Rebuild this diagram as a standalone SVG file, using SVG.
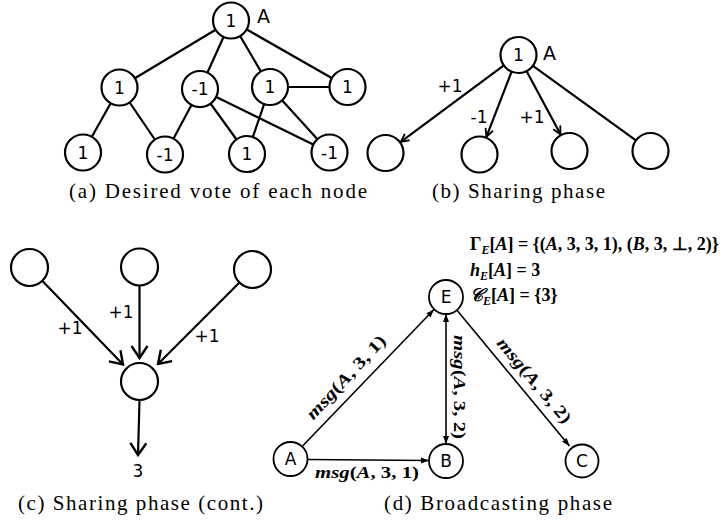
<svg xmlns="http://www.w3.org/2000/svg" width="725" height="521" viewBox="0 0 725 521">
<style>
.bg{fill:#fff}
.nd{fill:#fff;stroke:#000;stroke-width:2.2}
.ndd{fill:#fff;stroke:#000;stroke-width:1.8}
.e{stroke:#000;stroke-width:2.2;fill:none;stroke-linecap:round}
.ed{stroke:#000;stroke-width:1.6;fill:none}
.t{font-family:"DejaVu Sans",sans-serif;font-size:17px;fill:#000;text-anchor:middle}
.tl{font-family:"DejaVu Sans",sans-serif;font-size:19px;fill:#000}
.cap{font-family:"Liberation Serif",serif;font-size:21px;fill:#000;text-anchor:middle}
.math{font-family:"Liberation Serif",serif;font-size:18px;font-style:italic;font-weight:bold;fill:#000}
.ml{font-family:"Liberation Serif",serif;font-size:17px;font-style:italic;font-weight:bold;fill:#000;text-anchor:middle}
.up{font-style:normal}
.sub{font-size:12px}
</style>
<defs>
<marker id="arB" markerUnits="userSpaceOnUse" viewBox="-10 -6 12 12" markerWidth="12" markerHeight="12" refX="0" refY="0" orient="auto">
<path d="M-8,-4 L0,0 L-8,4" fill="none" stroke="#000" stroke-width="1.8"/>
</marker>
<marker id="arC" markerUnits="userSpaceOnUse" viewBox="-14 -10 16 20" markerWidth="16" markerHeight="20" refX="0" refY="0" orient="auto">
<path d="M-12,-8 L0,0 L-12,8" fill="none" stroke="#000" stroke-width="2.4" stroke-linejoin="miter"/>
</marker>
<marker id="arD" markerUnits="userSpaceOnUse" viewBox="-10 -5 11 10" markerWidth="11" markerHeight="10" refX="0" refY="0" orient="auto-start-reverse">
<path d="M0,0 L-8,-3 L-8,3 z" fill="#000"/>
</marker>
</defs>
<rect class="bg" x="0" y="0" width="725" height="521"/>

<g id="connectors">
<!-- panel a -->
<line class="e" x1="231" y1="20.5" x2="119.5" y2="87.5"/>
<line class="e" x1="231" y1="20.5" x2="200" y2="89"/>
<line class="e" x1="231" y1="20.5" x2="270" y2="87"/>
<line class="e" x1="231" y1="20.5" x2="347.5" y2="87"/>
<line class="e" x1="270" y1="87" x2="347.5" y2="87"/>
<line class="e" x1="119.5" y1="87.5" x2="83" y2="152.5"/>
<line class="e" x1="119.5" y1="87.5" x2="165" y2="154.5"/>
<line class="e" x1="200" y1="89" x2="165" y2="154.5"/>
<line class="e" x1="200" y1="89" x2="247" y2="154"/>
<line class="e" x1="200" y1="89" x2="329.5" y2="152.5"/>
<line class="e" x1="270" y1="87" x2="247" y2="154"/>
<line class="e" x1="270" y1="87" x2="329.5" y2="152.5"/>
<!-- panel b -->
<line class="e" x1="503.5" y1="65.7" x2="400.8" y2="141.8" marker-end="url(#arB)"/>
<line class="e" x1="511.5" y1="71.8" x2="486.4" y2="136.8" marker-end="url(#arB)"/>
<line class="e" x1="526.5" y1="70.9" x2="560.5" y2="134.3" marker-end="url(#arB)"/>
<line class="e" x1="532.6" y1="65.6" x2="635.9" y2="140.4"/>
<!-- panel c -->
<line class="e" x1="42.7" y1="281.2" x2="123" y2="364.5" marker-end="url(#arC)"/>
<line class="e" x1="139.5" y1="286" x2="139.5" y2="358" marker-end="url(#arC)"/>
<line class="e" x1="239" y1="283" x2="158" y2="364" marker-end="url(#arC)"/>
<line class="e" x1="139.5" y1="400" x2="138" y2="455" marker-end="url(#arC)"/>
<!-- panel d -->
<line class="ed" x1="302.8" y1="445.8" x2="434" y2="309.5" marker-end="url(#arD)"/>
<line class="ed" x1="308" y1="459.5" x2="429" y2="460.5" marker-end="url(#arD)"/>
<line class="ed" x1="446" y1="314" x2="446" y2="444" marker-start="url(#arD)" marker-end="url(#arD)"/>
<line class="ed" x1="456.8" y1="310.1" x2="569.5" y2="446" marker-end="url(#arD)"/>
<!-- connector labels -->
<text class="t" x="450" y="91.5">+1</text>
<text class="t" x="479" y="123">-1</text>
<text class="t" x="532" y="122.5">+1</text>
<text class="t" x="70" y="334">+1</text>
<text class="t" x="121" y="318">+1</text>
<text class="t" x="207" y="342">+1</text>
<text class="t" x="138" y="477">3</text>
<text class="ml" x="367" y="478" textLength="104" lengthAdjust="spacingAndGlyphs">msg<tspan class="up">(</tspan>A<tspan class="up">, 3, 1)</tspan></text>
<text class="ml" transform="translate(350,381) rotate(-47)" x="0" y="0" textLength="108" lengthAdjust="spacingAndGlyphs">msg<tspan class="up">(</tspan>A<tspan class="up">, 3, 1)</tspan></text>
<text class="ml" transform="translate(454,387) rotate(90)" x="0" y="0" textLength="104" lengthAdjust="spacingAndGlyphs">msg<tspan class="up">(</tspan>A<tspan class="up">, 3, 2)</tspan></text>
<text class="ml" transform="translate(530,384) rotate(50)" x="0" y="0" textLength="106" lengthAdjust="spacingAndGlyphs">msg<tspan class="up">(</tspan>A<tspan class="up">, 3, 2)</tspan></text>
</g>

<g id="node-a0"><circle class="nd" cx="231" cy="20.5" r="18"/><text class="t" x="231" y="26.7">1</text></g>
<g id="label-a-A"><text class="tl" x="257" y="23">A</text></g>
<g id="node-a1"><circle class="nd" cx="119.5" cy="87.5" r="18"/><text class="t" x="119.5" y="93.7">1</text></g>
<g id="node-a2"><circle class="nd" cx="200" cy="89" r="18"/><text class="t" x="200" y="95.2">-1</text></g>
<g id="node-a3"><circle class="nd" cx="270" cy="87" r="18"/><text class="t" x="270" y="93.2">1</text></g>
<g id="node-a4"><circle class="nd" cx="347.5" cy="87" r="18"/><text class="t" x="347.5" y="93.2">1</text></g>
<g id="node-a5"><circle class="nd" cx="83" cy="152.5" r="18"/><text class="t" x="83" y="158.7">1</text></g>
<g id="node-a6"><circle class="nd" cx="165" cy="154.5" r="18"/><text class="t" x="165" y="160.7">-1</text></g>
<g id="node-a7"><circle class="nd" cx="247" cy="154" r="18"/><text class="t" x="247" y="160.2">1</text></g>
<g id="node-a8"><circle class="nd" cx="329.5" cy="152.5" r="18"/><text class="t" x="329.5" y="158.7">-1</text></g>
<g id="caption-a"><text class="cap" x="218" y="198" textLength="298" lengthAdjust="spacing">(a) Desired vote of each node</text></g>

<g id="node-b0"><circle class="nd" cx="518.5" cy="55" r="18"/><text class="t" x="518.5" y="61.2">1</text></g>
<g id="label-b-A"><text class="tl" x="543" y="60">A</text></g>
<g id="node-b1"><circle class="nd" cx="385.5" cy="153" r="18"/></g>
<g id="node-b2"><circle class="nd" cx="479.5" cy="154.5" r="18"/></g>
<g id="node-b3"><circle class="nd" cx="569.5" cy="151" r="18"/></g>
<g id="node-b4"><circle class="nd" cx="650.5" cy="151" r="18"/></g>
<g id="caption-b"><text class="cap" x="518.5" y="198" textLength="173" lengthAdjust="spacing">(b) Sharing phase</text></g>

<g id="node-c0"><circle class="nd" cx="29.5" cy="267.5" r="18.5"/></g>
<g id="node-c1"><circle class="nd" cx="139.5" cy="267" r="18.5"/></g>
<g id="node-c2"><circle class="nd" cx="252.5" cy="269.5" r="18.5"/></g>
<g id="node-c3"><circle class="nd" cx="139.5" cy="381.5" r="18.5"/></g>
<g id="caption-c"><text class="cap" x="140.5" y="510" textLength="245" lengthAdjust="spacing">(c) Sharing phase (cont.)</text></g>

<g id="node-E"><circle class="ndd" cx="446" cy="297" r="17"/><text class="t" x="446" y="303.2">E</text></g>
<g id="node-A"><circle class="ndd" cx="290.5" cy="459" r="17"/><text class="t" x="290.5" y="465.2">A</text></g>
<g id="node-B"><circle class="ndd" cx="446" cy="461" r="17"/><text class="t" x="446" y="467.2">B</text></g>
<g id="node-C"><circle class="ndd" cx="582" cy="461" r="16.5"/><text class="t" x="582" y="467.2">C</text></g>
<g id="state-E">
<text class="math" x="470" y="250"><tspan class="up">Γ</tspan><tspan class="sub" dy="4">E</tspan><tspan class="up" dy="-4">[</tspan>A<tspan class="up">] = {(</tspan>A<tspan class="up">, 3, 3, 1), (</tspan>B<tspan class="up">, 3, ⊥, 2)}</tspan></text>
<text class="math" x="470" y="276">h<tspan class="sub" dy="4">E</tspan><tspan class="up" dy="-4">[</tspan>A<tspan class="up">] = 3</tspan></text>
<text class="math" x="470" y="301">𝒞<tspan class="sub" dy="4">E</tspan><tspan class="up" dy="-4">[</tspan>A<tspan class="up">] = {3}</tspan></text>
</g>
<g id="caption-d"><text class="cap" x="498" y="510" textLength="228" lengthAdjust="spacing">(d) Broadcasting phase</text></g>
</svg>
